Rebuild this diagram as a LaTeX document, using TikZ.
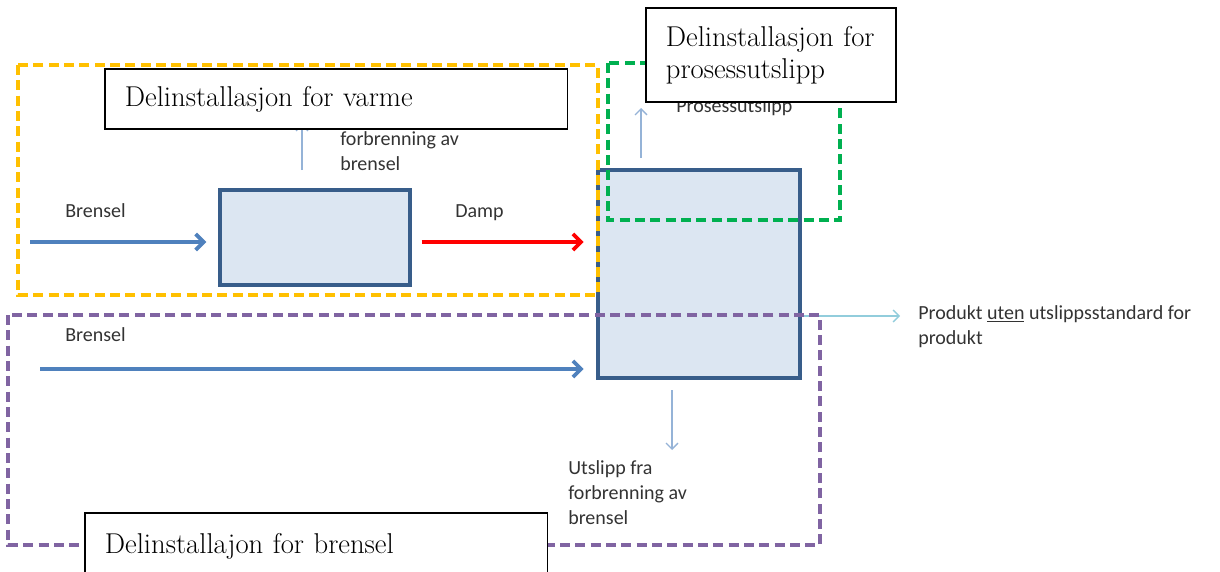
\documentclass[tikz,border=0pt]{standalone}
\usepackage{fontspec}
\newfontfamily\calibrifont{Carlito}
\usepackage{tikz}
\usetikzlibrary{arrows.meta,positioning}
\definecolor{heatline}{HTML}{FFC000}
\definecolor{procline}{HTML}{00B050}
\definecolor{fuelline}{HTML}{8064A2}
\definecolor{unitfill}{HTML}{DCE6F2}
\definecolor{unitdraw}{HTML}{385D8A}
\definecolor{flowblue}{HTML}{4F81BD}
\definecolor{thinblue}{HTML}{95B3D7}
\definecolor{prodblue}{HTML}{92CDDC}
\tikzset{
  every picture/.style = {
    x = 0.75pt,
    y = -0.75pt,
    >={Straight Barb[length=6pt,width=12pt]},
  }
  ,
  unit/.style = {
    rectangle,
    draw = unitdraw,
    fill = unitfill,
    line width = 2.6pt
  }
  , % the three sub-installation frames
  frame/.style = {
    dashed,
    dash pattern = on 7.5pt off 4pt,
    line width = 2.6pt
  }
  , % the captions in white boxes
  label-box/.style = {
    rectangle,
    draw,
    fill = white,
    line width = 1.3pt,
    anchor = north west,
    align = left,
    inner xsep = 15pt,
    text width = 317pt,
    font = \fontsize{21.5}{24}\selectfont
  }
  , % labels of flows
  label-flow/.style = {
    inner sep = 0pt,
    align = left,
    text = black!80,
    font = \calibrifont\fontsize{15}{18.75}\selectfont
  }
  ,
  flow/.style = {
    ->,
    line width = 2.8pt
  }
  ,
  thin-flow/.style = {
    ->,
    line width = 1pt,
    >={Straight Barb[length=4.5pt,width=9pt]}
  }
}
\begin{document}
\begin{tikzpicture}
  \useasboundingbox (0,0) rectangle (1220,571);
  % units
  \node[unit, minimum width=142.5pt, minimum height=71.25pt] at (315,237.5) (boiler) {};
  \node[unit, minimum width=151.5pt, minimum height=156pt] at (699,274) (process) {};
  % flows
  \coordinate (fuel-a) at (30,242);
  \coordinate (fuel-b) at (40,369);
  \draw[flow, flowblue, shorten >=9pt] (fuel-a) -- (boiler.west |- fuel-a);
  \draw[flow, red, shorten <=7.5pt, shorten >=9.5pt] (boiler.east |- fuel-a) -- (process.west |- fuel-a);
  \draw[flow, flowblue, shorten >=9.5pt] (fuel-b) -- (process.west |- fuel-b);
  \coordinate (boiler-out) at (302,124);
  \draw[thin-flow, thinblue] (302,170) -- (boiler-out);
  \coordinate (proc-out) at (641,108);
  \draw[thin-flow, thinblue] (641,158) -- (proc-out);
  \coordinate (comb-out) at (672,450);
  \draw[thin-flow, thinblue] (672,390) -- (comb-out);
  \coordinate (prod-out) at (900,316);
  \draw[thin-flow, prodblue] (process.east |- prod-out) -- (prod-out);
  % labels of flows
  \node[label-flow, anchor=base west] at (65,217) (fuel-a-lbl) {Brensel};
  \node[label-flow, anchor=base west] at (455,217) (steam-lbl) {Damp};
  \node[label-flow, anchor=base west] at (65,341) (fuel-b-lbl) {Brensel};
  \node[label-flow, anchor=north west] at (340,131) (boiler-out-lbl) {forbrenning av\\brensel};
  \node[label-flow, anchor=base west] at (676,112) (proc-out-lbl) {Prosessutslipp};
  \node[label-flow, anchor=north west] at (568,460) (comb-out-lbl) {Utslipp fra\\forbrenning av\\brensel};
  \node[label-flow, anchor=north west] at (918,305) (prod-out-lbl) {Produkt \underline{uten} utslippsstandard for\\produkt};
  % sub-installations
  \draw[frame, heatline] (18,65) rectangle (598,295);
  \draw[frame, procline] (608,63) rectangle (840,220);
  \draw[frame, fuelline] (8,315) rectangle (820,545);
  \node[label-box, minimum height=45pt] at (104,68) (heat) {Delinstallasjon for varme};
  \node[label-box, text width=157.5pt, minimum height=70.5pt] at (645,7) (proc) {Delinstallasjon for\\prosessutslipp};
  \node[label-box, minimum height=49.5pt] at (84,512) (fuel) {Delinstallajon for brensel};
\end{tikzpicture}
\end{document}
